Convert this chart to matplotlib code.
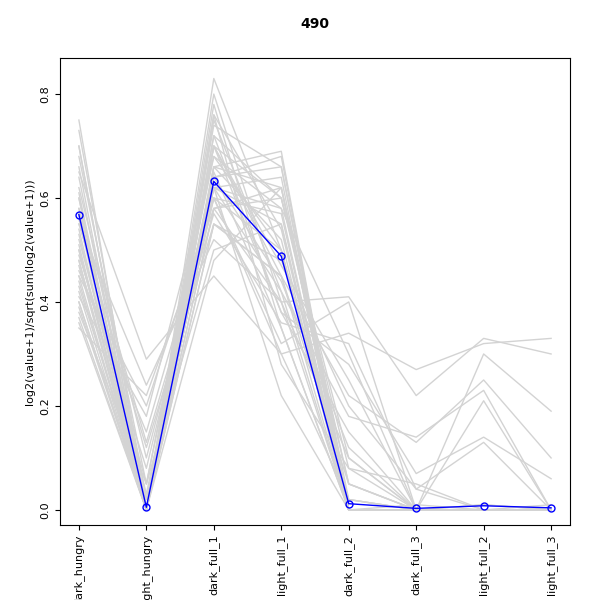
import matplotlib
matplotlib.use("Agg")
import matplotlib.pyplot as plt

samples = ["dark_hungry", "light_hungry", "dark_full_1", "light_full_1",
           "dark_full_2", "dark_full_3", "light_full_2", "light_full_3"]

title = "490"

# cluster centroid (blue)
centroid = [0.568, 0.005, 0.632, 0.488, 0.012, 0.003, 0.008, 0.004]

# a selection of member profiles
members = [
    [0.75, 0.00, 0.62, 0.22, 0.00, 0.00, 0.00, 0.00],
    [0.73, 0.02, 0.60, 0.30, 0.02, 0.00, 0.00, 0.00],
    [0.70, 0.00, 0.55, 0.45, 0.05, 0.00, 0.01, 0.00],
    [0.68, 0.05, 0.50, 0.55, 0.00, 0.00, 0.00, 0.00],
    [0.66, 0.00, 0.58, 0.40, 0.10, 0.00, 0.00, 0.00],
    [0.64, 0.00, 0.65, 0.35, 0.00, 0.00, 0.00, 0.00],
    [0.62, 0.10, 0.60, 0.50, 0.02, 0.00, 0.00, 0.00],
    [0.61, 0.00, 0.70, 0.45, 0.00, 0.01, 0.00, 0.01],
    [0.60, 0.00, 0.48, 0.62, 0.05, 0.00, 0.00, 0.00],
    [0.58, 0.03, 0.66, 0.52, 0.00, 0.00, 0.01, 0.00],
    [0.57, 0.00, 0.72, 0.38, 0.15, 0.00, 0.00, 0.00],
    [0.56, 0.00, 0.62, 0.58, 0.00, 0.00, 0.00, 0.00],
    [0.55, 0.12, 0.55, 0.48, 0.20, 0.04, 0.00, 0.00],
    [0.54, 0.00, 0.75, 0.42, 0.00, 0.00, 0.00, 0.00],
    [0.53, 0.00, 0.64, 0.66, 0.02, 0.00, 0.00, 0.00],
    [0.52, 0.05, 0.68, 0.50, 0.00, 0.00, 0.00, 0.00],
    [0.51, 0.00, 0.58, 0.60, 0.08, 0.00, 0.00, 0.00],
    [0.50, 0.00, 0.78, 0.35, 0.00, 0.00, 0.00, 0.00],
    [0.49, 0.08, 0.62, 0.55, 0.00, 0.00, 0.00, 0.00],
    [0.48, 0.00, 0.70, 0.47, 0.25, 0.00, 0.00, 0.00],
    [0.47, 0.00, 0.66, 0.62, 0.00, 0.00, 0.00, 0.00],
    [0.46, 0.15, 0.60, 0.57, 0.00, 0.00, 0.00, 0.00],
    [0.45, 0.00, 0.80, 0.40, 0.00, 0.00, 0.00, 0.00],
    [0.44, 0.00, 0.72, 0.60, 0.05, 0.00, 0.00, 0.00],
    [0.43, 0.02, 0.64, 0.68, 0.00, 0.00, 0.00, 0.00],
    [0.42, 0.00, 0.83, 0.50, 0.00, 0.00, 0.00, 0.00],
    [0.41, 0.18, 0.68, 0.58, 0.30, 0.00, 0.00, 0.00],
    [0.40, 0.00, 0.76, 0.54, 0.00, 0.00, 0.00, 0.00],
    [0.39, 0.00, 0.62, 0.64, 0.00, 0.00, 0.00, 0.00],
    [0.38, 0.05, 0.70, 0.60, 0.10, 0.00, 0.00, 0.00],
    [0.37, 0.00, 0.74, 0.66, 0.00, 0.00, 0.00, 0.00],
    [0.36, 0.00, 0.66, 0.69, 0.00, 0.00, 0.00, 0.00],
    [0.35, 0.22, 0.58, 0.62, 0.00, 0.00, 0.00, 0.00],
    [0.65, 0.29, 0.45, 0.30, 0.34, 0.27, 0.32, 0.33],
    [0.55, 0.24, 0.52, 0.40, 0.41, 0.22, 0.33, 0.30],
    [0.45, 0.20, 0.60, 0.32, 0.40, 0.00, 0.30, 0.19],
    [0.60, 0.00, 0.55, 0.45, 0.22, 0.13, 0.25, 0.10],
    [0.50, 0.00, 0.62, 0.42, 0.18, 0.14, 0.23, 0.00],
    [0.40, 0.00, 0.70, 0.38, 0.28, 0.07, 0.14, 0.06],
    [0.58, 0.13, 0.57, 0.36, 0.32, 0.04, 0.13, 0.00],
    [0.48, 0.00, 0.64, 0.44, 0.12, 0.00, 0.21, 0.00],
    [0.70, 0.00, 0.76, 0.28, 0.08, 0.05, 0.00, 0.00],
]

x = list(range(1, len(samples) + 1))

fig, ax = plt.subplots(figsize=(6, 6), dpi=100)
fig.subplots_adjust(left=0.1, right=0.95, top=0.903, bottom=0.125)

for row in members:
    ax.plot(x, row, color="#d3d3d3", lw=1)
ax.plot(x, centroid, color="blue", lw=1, marker="o", mfc="none", ms=5)

ax.set_title(title, fontsize=10, fontweight="bold", pad=22)
ax.set_ylabel("log2(value+1)/sqrt(sum(log2(value+1)))", fontsize=8)
ax.set_xlim(0.72, 8.28)
ax.set_ylim(-0.029, 0.869)
ax.set_yticks([0.0, 0.2, 0.4, 0.6, 0.8])
ax.set_yticklabels(["0.0", "0.2", "0.4", "0.6", "0.8"], rotation=90, va="center")
ax.set_xticks(x)
ax.set_xticklabels(samples, rotation=90, fontsize=8)
ax.tick_params(labelsize=8)

fig.savefig("out.png")
